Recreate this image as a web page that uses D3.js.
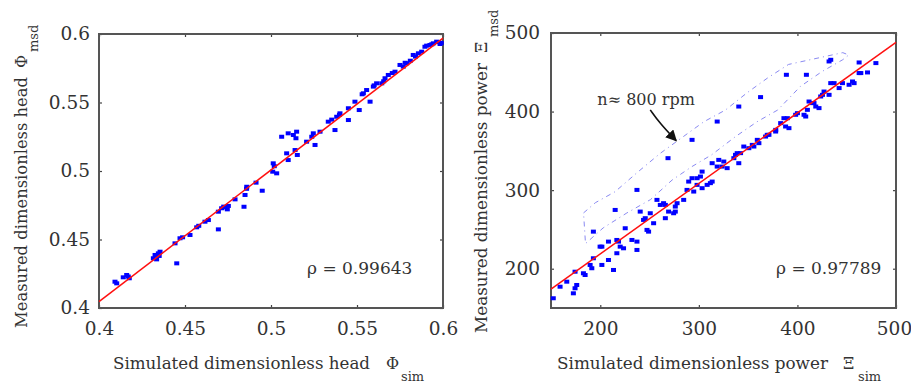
<!DOCTYPE html>
<html>
<head>
<meta charset="utf-8">
<script src="https://cdn.jsdelivr.net/npm/d3@7"></script>
<style>
  body { margin: 0; background: #fff; }
  svg text { fill: #333; }
</style>
</head>
<body>
<div id="chart"></div>
<script>
// ---- data ----
var headTicks = [0.4, 0.45, 0.5, 0.55, 0.6];
var powerTicks = [200, 300, 400, 500];

// left panel: simulated vs measured dimensionless head
var headSim = [0.4093, 0.4103, 0.4141, 0.4161, 0.4176, 0.4170, 0.4316, 0.4326, 0.4345, 0.4355, 0.4335, 0.4350,
    0.4452, 0.4442, 0.4471, 0.4486, 0.4529, 0.4568, 0.4580, 0.4616, 0.4636, 0.4694, 0.4694, 0.4713, 0.4725, 0.4733,
    0.4752, 0.4746, 0.4791, 0.4843, 0.4849, 0.4858, 0.4859, 0.4913, 0.4949, 0.5010, 0.5033, 0.5013, 0.5019,
    0.5062, 0.5100, 0.5130, 0.5149, 0.5145, 0.5091, 0.5140, 0.5153, 0.5100, 0.5207, 0.5237, 0.5246, 0.5256,
    0.5285, 0.5333, 0.5353, 0.5372, 0.5382, 0.5398, 0.5401, 0.5450, 0.5450, 0.5488, 0.5513, 0.5530, 0.5537,
    0.5556, 0.5576, 0.5595, 0.5600, 0.5614, 0.5644, 0.5655, 0.5663, 0.5682, 0.5705, 0.5721, 0.5750, 0.5769,
    0.5780, 0.5789, 0.5810, 0.5827, 0.5840, 0.5857, 0.5876, 0.5895, 0.5905, 0.5924, 0.5935, 0.5944, 0.5963,
    0.5975, 0.5983, 0.5990];
var headMsd = [0.4192, 0.4180, 0.4224, 0.4241, 0.4217, 0.4230, 0.4363, 0.4387, 0.4399, 0.4411, 0.4355, 0.4380,
    0.4326, 0.4472, 0.4509, 0.4516, 0.4533, 0.4589, 0.4600, 0.4630, 0.4642, 0.4574, 0.4703, 0.4728, 0.4740, 0.4735,
    0.4745, 0.4720, 0.4793, 0.4739, 0.4825, 0.4870, 0.4885, 0.4915, 0.4856, 0.4995, 0.4983, 0.5056, 0.5035,
    0.5250, 0.5275, 0.5263, 0.5287, 0.5239, 0.5129, 0.5153, 0.5117, 0.5080, 0.5214, 0.5250, 0.5275, 0.5190,
    0.5287, 0.5360, 0.5375, 0.5299, 0.5396, 0.5410, 0.5421, 0.5372, 0.5458, 0.5506, 0.5445, 0.5560, 0.5567,
    0.5591, 0.5506, 0.5616, 0.5625, 0.5640, 0.5640, 0.5655, 0.5677, 0.5701, 0.5715, 0.5725, 0.5774, 0.5762,
    0.5790, 0.5786, 0.5805, 0.5847, 0.5835, 0.5859, 0.5871, 0.5907, 0.5915, 0.5920, 0.5925, 0.5932, 0.5944,
    0.5940, 0.5927, 0.5935];
var headFit = [[0.4, 0.4046], [0.6, 0.597]];

// right panel: simulated vs measured dimensionless power
var powerSim = [152.3, 159.2, 166, 172.7, 174.4, 176.1, 174.4, 182.9, 184.6, 189.7, 191.4, 193, 201.6, 199.8,
    201.6, 208.3, 213.4, 208.3, 216.8, 216.8, 218.5, 220.2, 223.6, 225.3, 232.1, 237.2, 237.2, 240.5, 243.9,
    245.6, 247.4, 249, 254.1, 250.7, 257.5, 260.9, 264.2, 266, 266, 269.3, 274.4, 276.1, 277.9, 276.1, 284.6,
    288, 289.7, 293.1, 294.8, 298.2, 298.2, 301.6, 303.3, 303.3, 308.4, 311.7, 313.5, 313.5, 318.6, 320.2,
    323.6, 325.3, 328.7, 335.5, 337.2, 338.9, 340.5, 342.3, 345.6, 350.7, 354.2, 355.8, 359.3, 360.9, 367.7,
    369.4, 371.1, 377.9, 378, 383, 386.3, 388, 389.8, 391.4, 398.2, 400, 406.7, 408.4, 410.1, 411.8, 415.2,
    416.8, 418.6, 421.9, 423.6, 425.4, 427, 432.1, 433.8, 437.2, 442.3, 445.7, 452.4, 455.9, 457.5, 462.6,
    464.3, 471.1,
    // points of the n = 800 rpm group
    193, 215.1, 237.2, 268.7, 293.1, 318.6, 340.5, 362.6, 388.8, 409.1, 432.1, 433.8, 462.6, 479.6];
var powerMsd = [162.4, 177.1, 183.5, 168.7, 196.2, 179.3, 175.1, 194.2, 192, 204.8, 200.6, 213.3, 204.8, 228.1,
    228.1, 211.1, 198.4, 234.5, 219.7, 236.6, 234.5, 228.1, 226, 251.5, 236.6, 234.5, 223.9, 272.7, 262.1,
    264.3, 249.4, 247.2, 257.9, 270.6, 287.6, 281.2, 283.4, 264.3, 281.2, 272.7, 270.6, 279.1, 283.4, 272.7, 287.6,
    300.3, 310.9, 315.2, 298.2, 315.2, 306.7, 317.3, 323.6, 302.5, 306.7, 308.9, 334.3, 310.9, 330, 338.5,
    330, 336.4, 328, 340.7, 344.9, 347.1, 334.3, 347.1, 355.5, 353.4, 357.6, 355.5, 364, 359.8, 368.2,
    370.4, 370.4, 374.6, 376.7, 385.3, 391.6, 381, 391.6, 378.9, 395.9, 398, 395.9, 393.7, 402.2, 412.8, 410.8,
    410.8, 406.4, 404.4, 419.2, 421.3, 425.5, 421.3, 436.2, 436.2, 429.9, 436.2, 434.1, 438.3, 436.2, 449,
    449, 449.8,
    247.2, 274.8, 300.3, 340.7, 364, 387.3, 406.4, 418.4, 446.8, 446.8, 463.8, 465.9, 462.5, 461.7];
var powerFit = [[150, 174], [500, 488]];

// dash-dot outline around the 800 rpm points
var bandUpper = [[183, 271], [195, 284], [215, 298], [238, 323], [261, 347], [283, 367], [305, 387],
    [327, 402], [349, 424], [370, 443], [391, 460], [446, 475], [452, 472]];
var bandLower = [[446, 466], [425, 451], [403, 432], [380, 402], [359, 387], [337, 368], [313, 345],
    [293, 330], [273, 313], [251, 288], [227, 271], [203, 252], [185, 232]];
var labelPoint = [197, 409];
var arrowFrom = [250.7, 402.2];
var arrowTo = [277, 363];

// ---- drawing ----
var serif = "'DejaVu Serif', 'Liberation Serif', serif";

var svg = d3.select('#chart').append('svg')
    .attr('width', 911)
    .attr('height', 383)
    .style('font-family', serif);

svg.append('defs').append('marker')
    .attr('id', 'head')
    .attr('viewBox', '0 0 10 10')
    .attr('refX', 9).attr('refY', 5)
    .attr('markerWidth', 7).attr('markerHeight', 7)
    .attr('orient', 'auto')
    .append('path')
    .attr('d', 'M0,0 L10,5 L0,10 z')
    .attr('fill', '#111');

function drawPanel(opt) {
    var x = d3.scaleLinear().domain(opt.domain).range([opt.left, opt.right]);
    var y = d3.scaleLinear().domain(opt.domain).range([opt.bottom, opt.top]);

    var g = svg.append('g');

    // axes, ticks pointing inward
    var xb = g.append('g').attr('transform', `translate(0,${opt.bottom})`)
        .call(d3.axisBottom(x).tickValues(opt.ticks).tickSizeInner(-3).tickSizeOuter(0)
            .tickPadding(14).tickFormat(opt.fmt));
    var yl = g.append('g').attr('transform', `translate(${opt.left},0)`)
        .call(d3.axisLeft(y).tickValues(opt.ticks).tickSizeInner(-3).tickSizeOuter(0)
            .tickPadding(opt.ypad).tickFormat(opt.fmt));
    var xt = g.append('g').attr('transform', `translate(0,${opt.top})`)
        .call(d3.axisTop(x).tickValues(opt.ticks).tickSizeInner(-3).tickSizeOuter(0).tickFormat(''));
    var yr = g.append('g').attr('transform', `translate(${opt.right},0)`)
        .call(d3.axisRight(y).tickValues(opt.ticks).tickSizeInner(-3).tickSizeOuter(0).tickFormat(''));

    [xb, yl, xt, yr].forEach(function (a) {
        a.select('.domain').remove();
        a.selectAll('line').attr('stroke', '#444').attr('stroke-width', 1.2);
        a.attr('font-family', null).attr('font-size', null);
        a.selectAll('text').attr('font-size', '18.5px').attr('fill', '#3a3a3a');
    });
    // last x label sits close to the page edge
    xb.selectAll('text').filter(d => d === opt.ticks[opt.ticks.length - 1]).attr('dx', opt.lastDx || 0);

    // frame
    g.append('rect')
        .attr('x', opt.left).attr('y', opt.top)
        .attr('width', opt.right - opt.left)
        .attr('height', opt.bottom - opt.top)
        .attr('fill', 'none')
        .attr('stroke', '#555')
        .attr('stroke-width', 2);

    var line = d3.line().x(d => x(d[0])).y(d => y(d[1]));

    if (opt.band) {
        g.append('path')
            .attr('d', line(opt.band) + 'Z')
            .attr('fill', 'none')
            .attr('stroke', '#8a8af2')
            .attr('stroke-width', 1)
            .attr('stroke-dasharray', '5,4,1,4');
    }

    // points
    var pts = opt.sim.map(function (v, i) { return [v, opt.msd[i]]; });
    g.selectAll('.pt').data(pts)
        .enter().append('rect')
        .attr('class', 'pt')
        .attr('x', d => x(d[0]) - 2.5)
        .attr('y', d => y(d[1]) - 2)
        .attr('width', 5)
        .attr('height', 4)
        .attr('fill', '#0000ff');

    // fitted line
    g.append('path')
        .attr('d', line(opt.fit))
        .attr('fill', 'none')
        .attr('stroke', '#ff1010')
        .attr('stroke-width', 1.5);

    // correlation
    g.append('text')
        .attr('x', opt.rhoX).attr('y', 274)
        .attr('font-size', '17px')
        .attr('fill', '#222')
        .text('ρ = ' + opt.rho);

    // x label
    g.append('text')
        .attr('x', opt.xl.x).attr('y', 369)
        .attr('font-size', '17px')
        .attr('textLength', opt.xl.len)
        .attr('lengthAdjust', 'spacingAndGlyphs')
        .text(opt.xl.text);
    g.append('text')
        .attr('x', opt.xl.symX).attr('y', 369)
        .attr('font-size', '16px')
        .text(opt.sym);
    g.append('text')
        .attr('x', opt.xl.symX + 15).attr('y', 381)
        .attr('font-size', '13px')
        .text('sim');

    // y label (rotated)
    g.append('text')
        .attr('transform', `translate(${opt.yl.x},${opt.yl.y0}) rotate(-90)`)
        .attr('font-size', '17px')
        .attr('textLength', opt.yl.len)
        .attr('lengthAdjust', 'spacingAndGlyphs')
        .text(opt.yl.text);
    g.append('text')
        .attr('transform', `translate(${opt.yl.x},${opt.yl.symY}) rotate(-90)`)
        .attr('font-size', '16px')
        .text(opt.sym);
    g.append('text')
        .attr('transform', `translate(${opt.yl.x + 11},${opt.yl.symY - 16}) rotate(-90)`)
        .attr('font-size', '13px')
        .text('msd');

    return { x: x, y: y, g: g };
}

drawPanel({
    domain: [0.4, 0.6], ticks: headTicks, fmt: d3.format('~g'),
    left: 99, right: 443, top: 34, bottom: 308, ypad: 9,
    sim: headSim, msd: headMsd, fit: headFit,
    rho: '0.99643', rhoX: 307, sym: 'Φ',
    xl: { text: 'Simulated dimensionless head', x: 113, len: 257, symX: 386 },
    yl: { text: 'Measured dimensionless head', x: 27, y0: 328, len: 251, symY: 68 }
});

var right = drawPanel({
    domain: [150, 500], ticks: powerTicks, fmt: d3.format('d'), lastDx: -2,
    left: 551, right: 896, top: 33, bottom: 308, ypad: 11,
    sim: powerSim, msd: powerMsd, fit: powerFit, band: bandUpper.concat(bandLower),
    rho: '0.97789', rhoX: 776, sym: 'Ξ',
    xl: { text: 'Simulated dimensionless power', x: 557, len: 271, symX: 843 },
    yl: { text: 'Measured dimensionless power', x: 487, y0: 333, len: 270, symY: 53 }
});

// annotation
right.g.append('text')
    .attr('x', right.x(labelPoint[0]))
    .attr('y', right.y(labelPoint[1]))
    .attr('font-size', '16px')
    .attr('fill', '#222')
    .text('n≈ 800 rpm');

right.g.append('path')
    .attr('d', d3.line().curve(d3.curveBasis)([
        [right.x(arrowFrom[0]), right.y(arrowFrom[1])],
        [right.x(arrowFrom[0]) + 10, right.y(arrowFrom[1]) + 14],
        [right.x(arrowTo[0]), right.y(arrowTo[1])]
    ]))
    .attr('fill', 'none')
    .attr('stroke', '#111')
    .attr('stroke-width', 1.6)
    .attr('marker-end', 'url(#head)');
</script>
</body>
</html>
